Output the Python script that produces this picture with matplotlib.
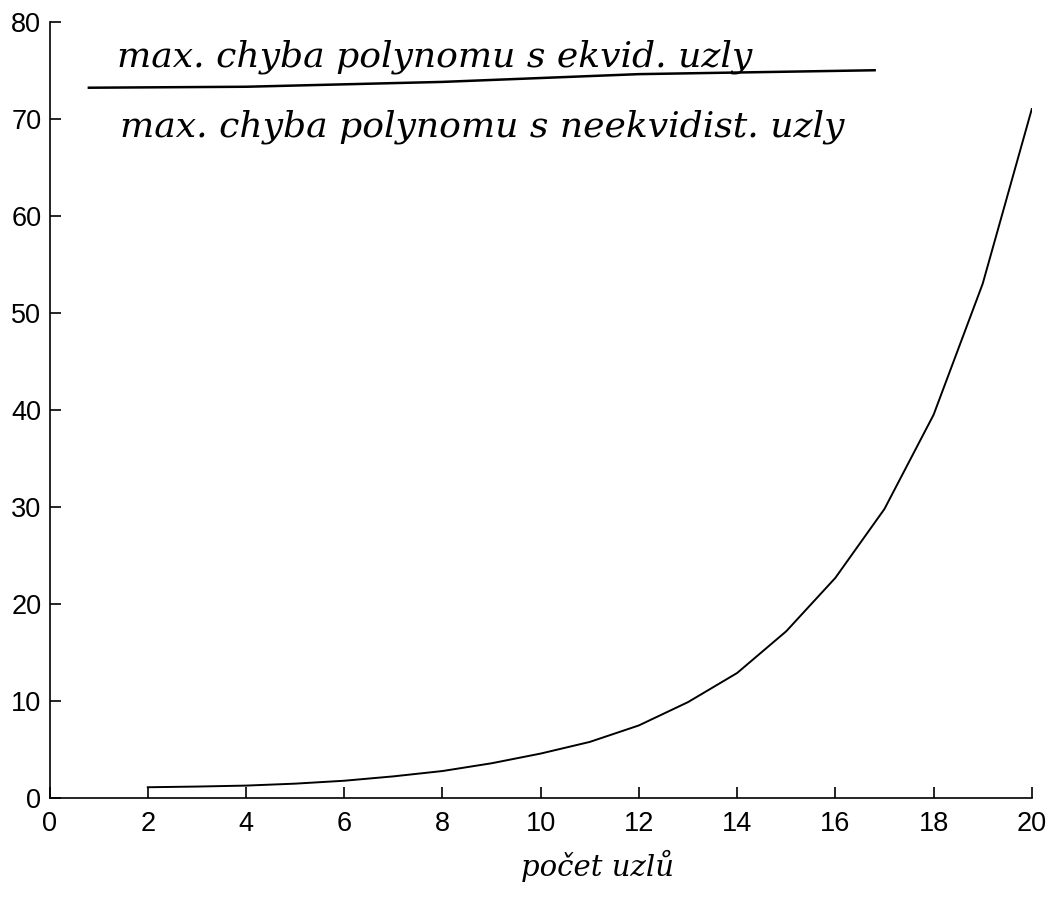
import matplotlib
matplotlib.use("Agg")
import matplotlib.pyplot as plt

# pocet uzlu vs. pomer maximalnich chyb
n_nodes = [2, 3, 4, 5, 6, 7, 8, 9, 10, 11, 12, 13, 14, 15, 16, 17, 18, 19, 20]
err_ratio = [1.13, 1.2, 1.3, 1.5, 1.8, 2.25, 2.8, 3.6, 4.6, 5.8, 7.5, 9.9,
             12.9, 17.2, 22.7, 29.8, 39.5, 53.0, 71.0]

x_ticks = list(range(0, 21, 2))
y_ticks = list(range(0, 81, 10))

plt.rcParams['font.family'] = ['Liberation Sans', 'DejaVu Sans']

fig = plt.figure(figsize=(10.55, 9.05), dpi=100)
ax = fig.add_axes([0.047, 0.118, 0.931, 0.858])

ax.plot(n_nodes, err_ratio, c="black", lw=1.4)

ax.set_xlim(0, 20)
ax.set_ylim(0, 80)
ax.set_xticks(x_ticks)
ax.set_yticks(y_ticks)
ax.tick_params(direction="in", length=8, width=1.2, labelsize=19.5)
ax.tick_params(axis="x", pad=9)
ax.tick_params(axis="y", pad=6)
ax.spines["top"].set_visible(False)
ax.spines["right"].set_visible(False)
ax.spines["left"].set_linewidth(1.2)
ax.spines["bottom"].set_linewidth(1.2)

# rucne psany zlomek nahore
hand = dict(family="DejaVu Serif", style="italic", fontsize=26, color="black")
ax.text(7.85, 76.4, "max. chyba polynomu s ekvid. uzly", ha="center", va="center", **hand)
ax.plot([0.8, 4, 8, 12, 16.8], [73.2, 73.3, 73.8, 74.6, 75.0], c="black", lw=1.8,
        clip_on=False)
ax.text(8.8, 69.2, "max. chyba polynomu s neekvidist. uzly", ha="center", va="center", **hand)

ax.set_xlabel("počet uzlů", family="DejaVu Serif", style="italic", fontsize=21)
ax.xaxis.set_label_coords(0.558, -0.067)

fig.savefig("out.png", dpi=100, facecolor="white")
